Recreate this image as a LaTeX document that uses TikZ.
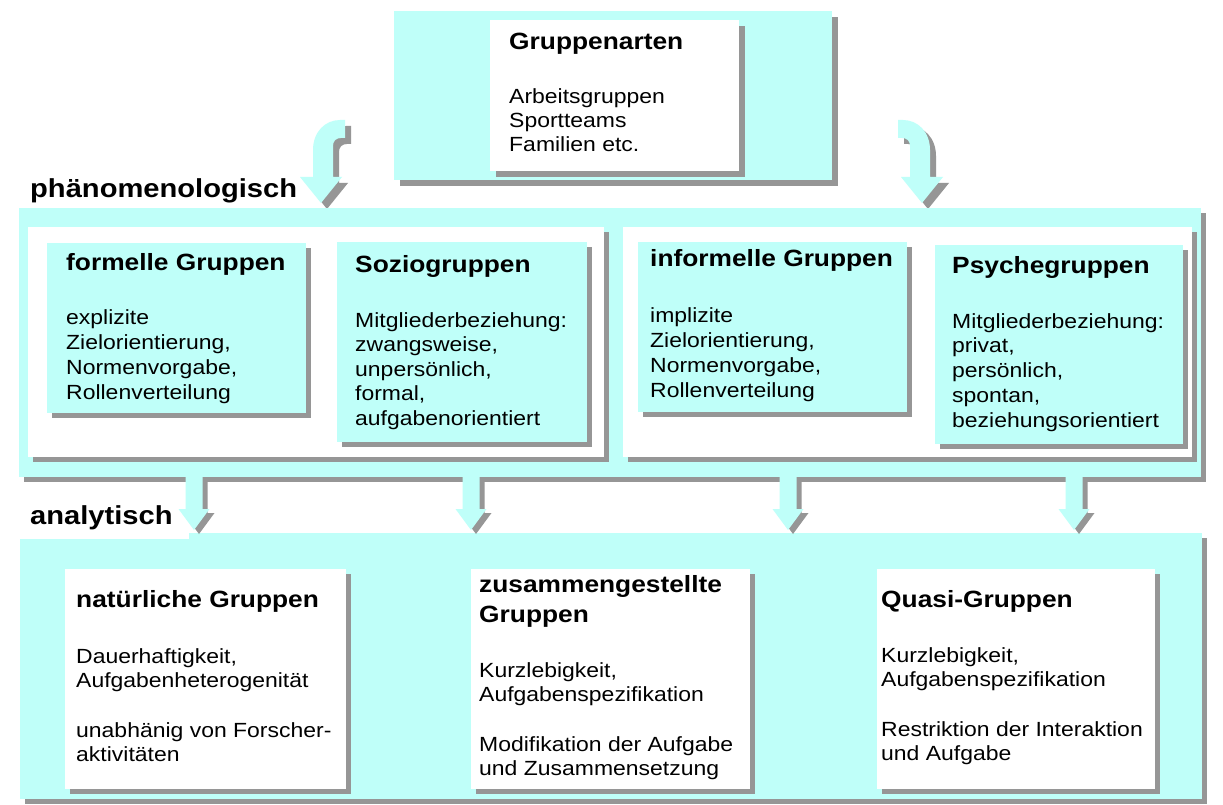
\documentclass[tikz,border=0pt]{standalone}
\usepackage{fontspec}
\setmainfont{Liberation Sans}[FakeStretch=1.12]
\definecolor{cy}{RGB}{191,255,249}
\definecolor{sh}{RGB}{150,150,150}
\newcommand\tblock[2]{\vtop{\baselineskip=#1\lineskip=0pt\lineskiplimit=-100pt\halign{##\hfil\cr #2\crcr}}}
\newcommand\shbx[4]{%
  \fill[sh, shift={(#2,#2)}] (#3) rectangle (#4);
  \fill[#1] (#3) rectangle (#4);}
\newcommand\dnarr[1]{%
  \fill[sh, shift={(5,4)}] (#1-8.5,477) -- (#1+8.5,477) -- (#1+8.5,509) -- (#1+15.5,509) -- (#1,530) -- (#1-15.5,509) -- (#1-8.5,509) -- cycle;
  \fill[cy] (#1-8.5,477) -- (#1+8.5,477) -- (#1+8.5,509) -- (#1+15.5,509) -- (#1,530) -- (#1-15.5,509) -- (#1-8.5,509) -- cycle;}
\tikzset{
  body/.style={anchor=base west, inner sep=0pt, font=\fontsize{20.5}{25}\selectfont},
  head/.style={anchor=base west, inner sep=0pt, font=\fontsize{23.5}{30}\selectfont\bfseries},
  lab/.style={anchor=base west, inner sep=0pt, font=\fontsize{26}{30}\selectfont\bfseries},
}
\begin{document}
\begin{tikzpicture}[x=1pt, y=-1pt]
\fill[white] (0,0) rectangle (1223,805);
\useasboundingbox (0,0) rectangle (1223,805);

% top box
\shbx{cy}{6}{394,11}{832,180}
\shbx{white}{6}{490,20}{739,171}
\node[head] (gh) at (509,50) {Gruppenarten};
\node[body] (gb) at (509,104) {\tblock{24pt}{Arbeitsgruppen\cr Sportteams\cr Familien etc.}};

% curved arrows
\foreach \s/\c in {6/sh,0/cy}{
  \fill[\c, shift={(\s,\s)}] (345,120) -- (340,120) .. controls (325,120) and (313,132) .. (313,150) -- (313,177) -- (300,177) -- (321,203) -- (342,177) -- (333,177) -- (333,146) .. controls (333,141) and (336,138) .. (341,138) -- (345,138) -- cycle;
  \fill[\c, shift={(\s,\s)}] (898,120) -- (903,120) .. controls (918,120) and (930,132) .. (930,150) -- (930,177) -- (943,177) -- (922,203) -- (901,177) -- (910,177) -- (910,146) .. controls (910,141) and (907,138) .. (902,138) -- (898,138) -- cycle;
}

\node[lab] (phaen) at (30,197) {phänomenologisch};

% middle band
\shbx{cy}{5}{19,208}{1201,477}
\shbx{white}{5}{28,227}{604,457}
\shbx{white}{5}{623,227}{1192,457}
\shbx{cy}{5}{47,243}{306,413}
\shbx{cy}{5}{337,242}{587,442}
\shbx{cy}{5}{638,242}{907,412}
\shbx{cy}{5}{935,245}{1183,444}

\node[head] (fh) at (66,270) {formelle Gruppen};
\node[body] (fb) at (66,324) {\tblock{25pt}{explizite\cr Zielorientierung,\cr Normenvorgabe,\cr Rollenverteilung}};
\node[head] (sh) at (355,272) {Soziogruppen};
\node[body] (sb) at (355,327) {\tblock{24.6pt}{Mitgliederbeziehung:\cr zwangsweise,\cr unpersönlich,\cr formal,\cr aufgabenorientiert}};
\node[head] (ih) at (650,266) {informelle Gruppen};
\node[body] (ib) at (650,322) {\tblock{25pt}{implizite\cr Zielorientierung,\cr Normenvorgabe,\cr Rollenverteilung}};
\node[head] (ph) at (952,273) {Psychegruppen};
\node[body] (pb) at (952,328) {\tblock{24.8pt}{Mitgliederbeziehung:\cr privat,\cr persönlich,\cr spontan,\cr beziehungsorientiert}};

% bottom band
\shbx{cy}{5}{20,533}{1202,799}
\fill[white] (15,490) rectangle (189,539);
\node[lab] (anal) at (30,524) {analytisch};

\dnarr{194}
\dnarr{471}
\dnarr{788}
\dnarr{1074}

\shbx{white}{5}{65,569}{346,789}
\shbx{white}{5}{471,569}{750,789}
\shbx{white}{5}{877,569}{1155,789}

\node[head] (nh) at (76,607) {natürliche Gruppen};
\node[body] (nb) at (76,663) {\tblock{24.7pt}{Dauerhaftigkeit,\cr Aufgabenheterogenität\cr \cr unabhänig von Forscher-\cr aktivitäten}};
\node[head] (zh) at (479,592) {\tblock{30pt}{zusammengestellte\cr Gruppen}};
\node[body] (zb) at (479,677) {\tblock{24.7pt}{Kurzlebigkeit,\cr Aufgabenspezifikation\cr \cr Modifikation der Aufgabe\cr und Zusammensetzung}};
\node[head] (qh) at (881,607) {Quasi-Gruppen};
\node[body] (qb) at (881,662) {\tblock{24.7pt}{Kurzlebigkeit,\cr Aufgabenspezifikation\cr \cr Restriktion der Interaktion\cr und Aufgabe}};
\end{tikzpicture}
\end{document}
